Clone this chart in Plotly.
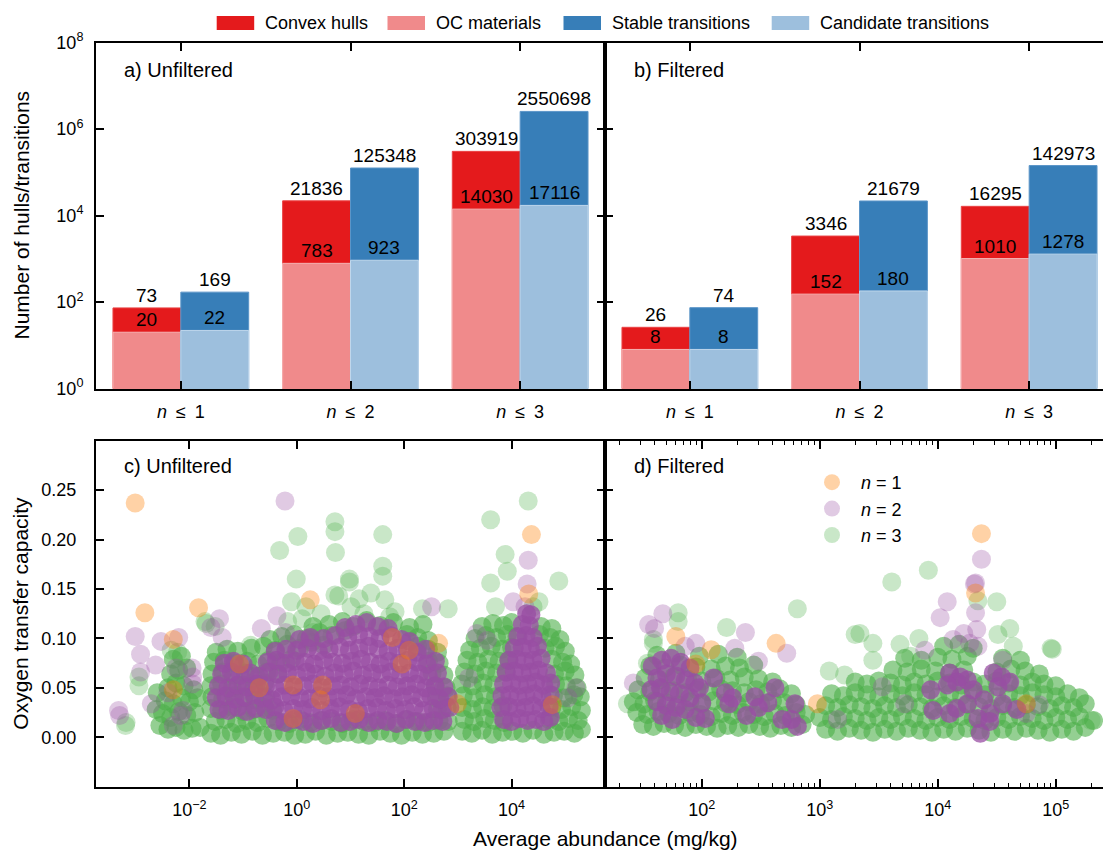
import math
import plotly.graph_objects as go

# ---------------- bar data (panels a, b) ----------------
cat_pos = [0, 1, 2]
cat_labels = ["<i>n</i>\u2002≤\u20021", "<i>n</i>\u2002≤\u20022", "<i>n</i>\u2002≤\u20023"]
unf_hulls = [73, 21836, 303919]
unf_oc = [20, 783, 14030]
unf_stable = [169, 125348, 2550698]
unf_cand = [22, 923, 17116]
fil_hulls = [26, 3346, 16295]
fil_oc = [8, 152, 1010]
fil_stable = [74, 21679, 142973]
fil_cand = [8, 180, 1278]
bar_legend = ["Convex hulls", "OC materials", "Stable transitions", "Candidate transitions"]

# ---------------- scatter data (panels c, d): (log10 abundance, oxygen transfer capacity) ----------------
c_n1 = [(-3.01, 0.237), (-2.83, 0.126), (-1.83, 0.131), (-2.30, 0.099), (-2.30, 0.048), (-1.07, 0.074),
        (-0.70, 0.050), (0.25, 0.139), (-0.07, 0.053), (-0.07, 0.019), (0.48, 0.053), (0.44, 0.038),
        (1.09, 0.024), (1.78, 0.101), (2.09, 0.088), (1.96, 0.074), (2.64, 0.095), (2.99, 0.034),
        (4.37, 0.205), (4.32, 0.145), (4.76, 0.033)]
c_n2 = [(-0.22, 0.239), (-3.01, 0.102), (-2.91, 0.084), (-2.91, 0.066), (-3.32, 0.027), (-3.30, 0.022),
        (-2.71, 0.034), (-2.53, 0.097), (-2.63, 0.073), (-2.20, 0.101), (-1.94, 0.061), (-1.94, 0.054),
        (-1.44, 0.120), (-1.60, 0.111), (-1.39, 0.101), (-0.66, 0.110), (-0.37, 0.123), (-0.21, 0.106),
        (0.24, 0.099), (-2.16, 0.022), (-2.12, 0.027), (-2.30, 0.012), (-2.25, 0.070), (-1.95, 0.070),
        (2.51, 0.132), (4.31, 0.179), (4.29, 0.155), (4.03, 0.137), (4.25, 0.132), (3.35, 0.105),
        (3.55, 0.098), (5.20, 0.050), (5.05, 0.040), (3.20, 0.060), (-2.40, 0.045)]
c_n2_core = [
    (-0.40, 0.017), (-0.22, 0.015), (-0.05, 0.018), (0.12, 0.016), (0.30, 0.014), (0.47, 0.017), (0.64, 0.019),
    (0.82, 0.015), (0.99, 0.016), (1.16, 0.018), (1.34, 0.015), (1.51, 0.017), (1.68, 0.016), (1.86, 0.014),
    (2.03, 0.018), (2.20, 0.016), (2.38, 0.015), (2.55, 0.017), (2.72, 0.016),
    (-1.45, 0.028), (-1.28, 0.027), (-1.10, 0.030), (-0.93, 0.026), (-0.76, 0.029), (-0.58, 0.028), (-0.41, 0.031),
    (-0.24, 0.027), (-0.06, 0.029), (0.11, 0.028), (0.28, 0.030), (0.46, 0.027), (0.63, 0.029), (0.80, 0.031),
    (0.98, 0.028), (1.15, 0.026), (1.32, 0.029), (1.50, 0.030), (1.67, 0.027), (1.84, 0.029), (2.02, 0.028),
    (2.19, 0.031), (2.36, 0.027), (2.54, 0.029), (2.71, 0.028), (2.85, 0.030),
    (-1.50, 0.040), (-1.32, 0.042), (-1.15, 0.039), (-0.98, 0.041), (-0.80, 0.043), (-0.63, 0.040), (-0.46, 0.038),
    (-0.28, 0.041), (-0.11, 0.042), (0.06, 0.040), (0.24, 0.039), (0.41, 0.042), (0.58, 0.041), (0.76, 0.040),
    (0.93, 0.043), (1.10, 0.039), (1.28, 0.041), (1.45, 0.040), (1.62, 0.042), (1.80, 0.039), (1.97, 0.041),
    (2.14, 0.043), (2.32, 0.040), (2.49, 0.042), (2.66, 0.039), (2.82, 0.041),
    (-1.46, 0.052), (-1.28, 0.050), (-1.10, 0.053), (-0.93, 0.051), (-0.75, 0.054), (-0.58, 0.052), (-0.40, 0.050),
    (-0.23, 0.053), (-0.05, 0.051), (0.12, 0.052), (0.30, 0.054), (0.47, 0.050), (0.65, 0.052), (0.82, 0.053),
    (1.00, 0.051), (1.17, 0.054), (1.35, 0.052), (1.52, 0.050), (1.70, 0.053), (1.87, 0.051), (2.05, 0.052),
    (2.22, 0.054), (2.40, 0.050), (2.57, 0.052), (2.74, 0.051),
    (-1.40, 0.064), (-1.22, 0.066), (-1.05, 0.063), (-0.87, 0.065), (-0.70, 0.062), (-0.52, 0.066), (-0.35, 0.064),
    (-0.17, 0.065), (0.00, 0.063), (0.18, 0.066), (0.35, 0.064), (0.53, 0.062), (0.70, 0.065), (0.88, 0.064),
    (1.05, 0.067), (1.23, 0.063), (1.40, 0.065), (1.58, 0.064), (1.75, 0.066), (1.93, 0.063), (2.10, 0.065),
    (2.28, 0.064), (2.45, 0.062), (2.62, 0.065),
    (-1.35, 0.075), (-1.18, 0.077), (-1.00, 0.074), (-0.55, 0.076), (-0.38, 0.078), (-0.20, 0.075), (-0.03, 0.077),
    (0.15, 0.076), (0.32, 0.074), (0.50, 0.078), (0.67, 0.076), (0.85, 0.075), (1.02, 0.077), (1.20, 0.079),
    (1.37, 0.076), (1.55, 0.074), (1.72, 0.077), (1.90, 0.075), (2.07, 0.078), (2.25, 0.076), (2.42, 0.074),
    (2.58, 0.077),
    (-0.40, 0.087), (-0.20, 0.089), (0.00, 0.088), (0.20, 0.090), (0.40, 0.087), (0.60, 0.089), (0.80, 0.091),
    (0.98, 0.088), (1.16, 0.090), (1.34, 0.092), (1.52, 0.089), (1.70, 0.087), (1.88, 0.090), (2.06, 0.088),
    (2.24, 0.086), (2.40, 0.089),
    (0.05, 0.099), (0.25, 0.101), (0.50, 0.100), (0.72, 0.103), (0.95, 0.101), (1.15, 0.104), (1.35, 0.102),
    (1.55, 0.100), (1.75, 0.103), (1.95, 0.099), (2.10, 0.097),
    (0.90, 0.111), (1.10, 0.114), (1.30, 0.116), (1.50, 0.112), (1.70, 0.110),
    (3.85, 0.018), (4.00, 0.016), (4.15, 0.019), (4.30, 0.017), (4.45, 0.018), (4.60, 0.016), (4.72, 0.020),
    (3.80, 0.030), (3.95, 0.031), (4.10, 0.029), (4.25, 0.030), (4.40, 0.032), (4.55, 0.029), (4.70, 0.031),
    (3.82, 0.042), (3.97, 0.043), (4.12, 0.041), (4.27, 0.042), (4.42, 0.044), (4.57, 0.041), (4.72, 0.043),
    (3.85, 0.054), (4.00, 0.055), (4.15, 0.053), (4.30, 0.054), (4.45, 0.056), (4.60, 0.053), (4.73, 0.055),
    (3.90, 0.066), (4.05, 0.067), (4.20, 0.065), (4.35, 0.066), (4.50, 0.068), (4.65, 0.065),
    (3.95, 0.078), (4.10, 0.079), (4.25, 0.077), (4.40, 0.078), (4.55, 0.080),
    (4.05, 0.090), (4.20, 0.091), (4.35, 0.089), (4.48, 0.092),
    (4.12, 0.102), (4.27, 0.103), (4.40, 0.101), (4.20, 0.114), (4.33, 0.113), (4.28, 0.125), (4.36, 0.124)]
c_n3 = [(0.71, 0.218), (0.71, 0.208), (0.02, 0.203), (-0.32, 0.189), (0.72, 0.187), (-0.01, 0.160),
        (0.98, 0.160), (0.98, 0.157), (-0.10, 0.137), (0.17, 0.132), (0.71, 0.144), (0.78, 0.143),
        (1.16, 0.140), (1.38, 0.146), (1.64, 0.139), (1.01, 0.132), (1.60, 0.205), (1.60, 0.173),
        (1.60, 0.163), (2.34, 0.130), (2.82, 0.130), (3.61, 0.220), (4.31, 0.239), (3.88, 0.185),
        (3.92, 0.168), (3.61, 0.156), (4.88, 0.158), (4.51, 0.137), (3.70, 0.132), (4.40, 0.132),
        (-1.71, 0.117), (-0.86, 0.093), (-3.18, 0.015), (-3.19, 0.012), (-2.94, 0.061), (-2.94, 0.052),
        (-2.34, 0.088), (-2.22, 0.086), (-1.69, 0.115), (-0.17, 0.117), (0.30, 0.106), (-1.52, 0.112),
        (0.45, 0.125), (1.25, 0.125), (1.83, 0.127), (1.73, 0.122), (0.10, 0.120)]
c_n3_core = [
    (-2.55, 0.012), (-2.40, 0.008), (-2.25, 0.010), (-2.10, 0.007), (-1.95, 0.009), (-1.80, 0.010),
    (-2.50, 0.024), (-2.35, 0.020), (-2.20, 0.026), (-2.05, 0.022), (-1.90, 0.025), (-2.45, 0.037),
    (-2.30, 0.034), (-2.15, 0.040), (-2.00, 0.036), (-1.85, 0.040), (-2.40, 0.050), (-2.25, 0.055),
    (-2.10, 0.052), (-1.92, 0.048), (-2.35, 0.064), (-2.20, 0.068), (-2.05, 0.070), (-2.30, 0.079),
    (-2.15, 0.082), (-2.60, 0.045), (-2.62, 0.028),
    (-1.60, 0.004), (-1.42, 0.002), (-1.22, 0.005), (-1.03, 0.003), (-0.83, 0.006), (-0.64, 0.002),
    (-0.44, 0.004), (-0.23, 0.005), (-0.04, 0.002), (0.16, 0.003), (0.35, 0.006), (0.55, 0.002),
    (0.76, 0.004), (0.95, 0.005), (1.15, 0.003), (1.34, 0.002), (1.55, 0.006), (1.74, 0.004),
    (1.95, 0.002), (2.15, 0.005), (2.34, 0.003), (2.55, 0.004), (2.74, 0.006),
    (-1.52, 0.016), (-1.32, 0.018), (-1.12, 0.014), (-0.93, 0.017), (-0.73, 0.015), (-0.54, 0.019),
    (-0.34, 0.016), (-0.14, 0.014), (0.06, 0.018), (0.25, 0.015), (0.45, 0.017), (0.66, 0.016),
    (0.85, 0.014), (1.05, 0.018), (1.25, 0.016), (1.45, 0.015), (1.65, 0.017), (1.85, 0.014),
    (2.05, 0.018), (2.25, 0.016), (2.45, 0.015), (2.65, 0.017), (2.82, 0.016),
    (-1.60, 0.029), (-1.40, 0.027), (-1.20, 0.030), (-1.00, 0.026), (-0.80, 0.028), (-0.60, 0.030),
    (-0.45, 0.027), (2.62, 0.028), (2.80, 0.030),
    (-1.58, 0.041), (-1.38, 0.039), (-1.18, 0.042), (-0.98, 0.040), (-0.78, 0.038), (-0.58, 0.041),
    (2.60, 0.040), (2.80, 0.042),
    (-1.60, 0.052), (-1.40, 0.054), (-1.20, 0.050), (-1.00, 0.053), (-0.80, 0.051), (-0.60, 0.055),
    (2.58, 0.052), (2.78, 0.050),
    (-1.58, 0.064), (-1.38, 0.066), (-1.18, 0.063), (-0.96, 0.065), (-0.76, 0.062), (-0.56, 0.066),
    (-0.35, 0.064), (2.52, 0.065), (2.74, 0.063),
    (-1.55, 0.076), (-1.35, 0.078), (-1.15, 0.075), (-0.92, 0.077), (-0.72, 0.074), (-0.52, 0.078),
    (-0.30, 0.076), (-0.10, 0.079), (2.45, 0.077), (2.65, 0.075),
    (-1.50, 0.086), (-1.30, 0.089), (-1.10, 0.087), (-0.85, 0.090), (-0.62, 0.092), (-0.40, 0.088),
    (-0.18, 0.094), (0.05, 0.090), (0.28, 0.096), (0.50, 0.093), (2.25, 0.092), (2.45, 0.089), (2.62, 0.086),
    (-0.50, 0.099), (-0.28, 0.102), (-0.05, 0.104), (0.18, 0.100), (0.42, 0.106), (0.65, 0.103),
    (0.90, 0.108), (2.05, 0.104), (2.25, 0.101), (2.45, 0.098),
    (0.30, 0.112), (0.60, 0.114), (0.85, 0.117), (1.05, 0.112), (1.30, 0.118), (1.55, 0.113),
    (1.80, 0.116), (2.10, 0.111), (2.35, 0.114),
    (3.08, 0.006), (3.26, 0.004), (3.45, 0.007), (3.64, 0.003), (3.83, 0.005), (4.02, 0.006), (4.21, 0.004),
    (4.40, 0.007), (4.60, 0.003), (4.79, 0.005), (4.98, 0.006), (5.17, 0.004), (5.30, 0.008),
    (3.12, 0.018), (3.30, 0.016), (3.50, 0.019), (3.68, 0.017), (3.86, 0.015), (4.70, 0.018), (4.88, 0.016),
    (5.06, 0.019), (5.24, 0.017),
    (3.08, 0.030), (3.27, 0.028), (3.46, 0.031), (3.65, 0.029), (3.84, 0.032), (4.75, 0.030), (4.93, 0.028),
    (5.12, 0.031), (5.30, 0.027),
    (3.10, 0.042), (3.30, 0.040), (3.50, 0.043), (3.70, 0.041), (4.78, 0.042), (4.97, 0.040), (5.16, 0.043),
    (5.28, 0.041),
    (3.07, 0.054), (3.27, 0.052), (3.47, 0.055), (3.67, 0.053), (4.82, 0.054), (5.02, 0.052), (5.22, 0.050),
    (3.12, 0.066), (3.32, 0.064), (3.52, 0.067), (3.72, 0.065), (3.90, 0.066), (4.80, 0.064), (5.00, 0.067),
    (5.18, 0.063),
    (3.17, 0.078), (3.37, 0.076), (3.57, 0.079), (3.77, 0.077), (3.95, 0.078), (4.75, 0.079), (4.95, 0.076),
    (5.10, 0.074),
    (3.22, 0.088), (3.42, 0.090), (3.62, 0.092), (3.82, 0.089), (4.00, 0.091), (4.62, 0.090), (4.82, 0.092),
    (5.00, 0.087),
    (3.32, 0.100), (3.52, 0.103), (3.72, 0.101), (3.92, 0.104), (4.10, 0.102), (4.52, 0.104), (4.72, 0.101),
    (4.90, 0.099),
    (3.45, 0.112), (3.65, 0.115), (3.85, 0.113), (4.00, 0.116), (4.55, 0.112), (4.75, 0.110)]

d_n1 = [(1.78, 0.102), (2.08, 0.0885), (2.63, 0.095), (1.95, 0.074), (2.98, 0.034), (4.37, 0.206),
        (4.32, 0.146), (4.75, 0.034)]
d_n2 = [(4.37, 0.180), (4.32, 0.156), (4.31, 0.155), (4.08, 0.137), (4.02, 0.121), (4.32, 0.126),
        (4.33, 0.109), (4.34, 0.092), (4.22, 0.105), (4.13, 0.099), (4.27, 0.095), (3.89, 0.088),
        (4.55, 0.078), (3.53, 0.051), (3.72, 0.034), (1.55, 0.114), (1.67, 0.125), (1.60, 0.110),
        (1.42, 0.055), (2.37, 0.106), (1.95, 0.095), (1.86, 0.092), (2.72, 0.085), (2.48, 0.077),
        (2.28, 0.090), (4.75, 0.024), (4.86, 0.033), (3.15, 0.018)]
d_n2_core = [
    (1.58, 0.072), (1.66, 0.078), (1.74, 0.080), (1.82, 0.076), (1.90, 0.070), (1.62, 0.060), (1.70, 0.064),
    (1.78, 0.062), (1.86, 0.058), (1.94, 0.055), (1.57, 0.048), (1.65, 0.050), (1.73, 0.046), (1.81, 0.044),
    (1.90, 0.040), (1.98, 0.050), (1.62, 0.036), (1.70, 0.032), (1.78, 0.030), (1.86, 0.028), (2.00, 0.035),
    (1.66, 0.022), (1.75, 0.018), (1.95, 0.020), (2.03, 0.019),
    (2.23, 0.034), (2.26, 0.040), (2.45, 0.041), (2.48, 0.030), (2.79, 0.034), (2.81, 0.011), (2.76, 0.018),
    (2.68, 0.018), (2.38, 0.022), (2.56, 0.035), (2.20, 0.045), (2.62, 0.050), (2.10, 0.060),
    (4.10, 0.065), (4.19, 0.061), (4.16, 0.056), (4.25, 0.058), (4.08, 0.053), (4.47, 0.065), (4.54, 0.061),
    (4.61, 0.056), (4.51, 0.051), (4.39, 0.038), (4.44, 0.024), (4.44, 0.016), (4.34, 0.019), (4.16, 0.029),
    (4.10, 0.024), (3.96, 0.027), (4.36, 0.004), (4.25, 0.034), (4.55, 0.034), (4.67, 0.028), (3.94, 0.048),
    (4.30, 0.048)]
d_n3 = [(3.92, 0.169), (3.61, 0.157), (2.81, 0.130), (4.50, 0.137), (4.97, 0.089), (1.80, 0.126),
        (1.80, 0.117), (1.59, 0.099), (1.59, 0.095), (2.21, 0.111), (1.54, 0.075), (1.37, 0.034),
        (3.08, 0.067), (3.21, 0.063), (3.30, 0.104), (3.34, 0.105), (3.45, 0.095), (3.45, 0.078),
        (4.61, 0.110), (4.51, 0.104), (4.64, 0.092), (4.96, 0.090), (4.34, 0.138), (3.68, 0.094),
        (3.84, 0.100), (3.77, 0.082), (5.30, 0.017)]
d_n3_core = [
    (1.50, 0.013), (1.59, 0.011), (1.68, 0.014), (1.77, 0.012), (1.86, 0.010), (1.95, 0.013), (2.04, 0.011),
    (2.13, 0.009), (2.22, 0.012), (2.31, 0.010), (2.40, 0.013), (2.49, 0.011), (2.58, 0.009), (2.67, 0.012),
    (2.76, 0.010), (2.85, 0.013),
    (1.45, 0.025), (1.54, 0.023), (1.63, 0.026), (1.72, 0.024), (1.81, 0.022), (1.90, 0.025), (1.99, 0.023),
    (2.08, 0.021), (2.17, 0.024), (2.26, 0.022), (2.35, 0.025), (2.44, 0.023), (2.53, 0.021), (2.62, 0.024),
    (2.71, 0.022), (2.80, 0.025), (2.88, 0.023),
    (1.42, 0.036), (1.51, 0.034), (1.60, 0.037), (1.70, 0.035), (1.80, 0.033), (1.90, 0.036), (2.00, 0.034),
    (2.10, 0.037), (2.20, 0.035), (2.30, 0.033), (2.40, 0.036), (2.50, 0.034), (2.60, 0.037), (2.70, 0.035),
    (2.80, 0.033),
    (1.46, 0.048), (1.56, 0.046), (1.66, 0.049), (1.76, 0.047), (1.86, 0.045), (1.96, 0.048), (2.06, 0.046),
    (2.16, 0.049), (2.26, 0.047), (2.36, 0.045), (2.46, 0.048), (2.56, 0.046), (2.66, 0.049), (2.76, 0.044),
    (1.52, 0.060), (1.64, 0.058), (1.76, 0.061), (1.88, 0.059), (2.00, 0.057), (2.12, 0.060), (2.24, 0.058),
    (2.36, 0.061), (2.48, 0.059), (2.60, 0.056),
    (1.56, 0.072), (1.69, 0.070), (1.82, 0.073), (1.95, 0.071), (2.08, 0.069), (2.20, 0.072), (2.32, 0.070),
    (2.44, 0.073),
    (1.62, 0.083), (1.78, 0.085), (1.98, 0.082), (2.14, 0.084), (2.30, 0.081),
    (3.05, 0.008), (3.15, 0.006), (3.25, 0.009), (3.35, 0.007), (3.45, 0.005), (3.55, 0.008), (3.65, 0.006),
    (3.75, 0.009), (3.85, 0.007), (3.95, 0.005), (4.05, 0.008), (4.15, 0.006), (4.25, 0.009), (4.35, 0.007),
    (4.45, 0.005), (4.55, 0.008), (4.65, 0.006), (4.75, 0.009), (4.85, 0.007), (4.95, 0.005), (5.05, 0.008),
    (5.15, 0.006), (5.25, 0.010),
    (3.00, 0.020), (3.10, 0.018), (3.20, 0.021), (3.30, 0.019), (3.40, 0.017), (3.50, 0.020), (3.60, 0.018),
    (3.70, 0.021), (3.80, 0.019), (3.90, 0.017), (4.00, 0.020), (4.10, 0.018), (4.20, 0.021), (4.30, 0.019),
    (4.40, 0.017), (4.50, 0.020), (4.60, 0.018), (4.70, 0.021), (4.80, 0.019), (4.90, 0.017), (5.00, 0.020),
    (5.10, 0.018), (5.20, 0.021), (5.32, 0.017),
    (3.05, 0.032), (3.15, 0.030), (3.25, 0.033), (3.35, 0.031), (3.45, 0.029), (3.55, 0.032), (3.65, 0.030),
    (3.75, 0.033), (3.85, 0.031), (3.95, 0.029), (4.05, 0.032), (4.15, 0.030), (4.25, 0.033), (4.35, 0.031),
    (4.45, 0.029), (4.55, 0.032), (4.65, 0.030), (4.75, 0.033), (4.85, 0.031), (4.95, 0.029), (5.05, 0.032),
    (5.15, 0.030), (5.25, 0.034),
    (3.10, 0.044), (3.20, 0.042), (3.30, 0.045), (3.40, 0.043), (3.50, 0.041), (3.60, 0.044), (3.70, 0.042),
    (3.80, 0.045), (3.90, 0.043), (4.00, 0.041), (4.10, 0.044), (4.20, 0.042), (4.30, 0.045), (4.40, 0.043),
    (4.50, 0.041), (4.60, 0.044), (4.70, 0.042), (4.80, 0.045), (4.90, 0.043), (5.00, 0.041), (5.10, 0.044),
    (5.20, 0.040),
    (3.30, 0.056), (3.40, 0.054), (3.50, 0.057), (3.60, 0.055), (3.70, 0.053), (3.80, 0.056), (3.90, 0.054),
    (4.00, 0.057), (4.10, 0.055), (4.20, 0.053), (4.30, 0.056), (4.40, 0.054), (4.50, 0.057), (4.60, 0.055),
    (4.70, 0.053), (4.80, 0.056), (4.90, 0.054), (5.00, 0.052),
    (3.62, 0.068), (3.74, 0.066), (3.86, 0.069), (3.98, 0.067), (4.10, 0.065), (4.22, 0.068), (4.50, 0.066),
    (4.62, 0.069), (4.74, 0.067), (4.86, 0.064),
    (3.72, 0.080), (3.86, 0.078), (4.00, 0.081), (4.12, 0.079), (4.25, 0.082), (4.55, 0.080), (4.70, 0.078),
    (4.05, 0.092), (4.18, 0.094), (4.30, 0.090)]

# ---------------- styling ----------------
W, H = 1103, 851
FONT = "Liberation Sans, Arial, Helvetica, sans-serif"
RED, LRED, BLUE, LBLUE = "#e41a1c", "#f08a8b", "#377eb8", "#9dbfdd"
C1 = "rgba(255,127,0,{a})"
C2 = "rgba(152,78,163,{a})"
C3 = "rgba(77,175,74,{a})"
MS = 19


def ppx(x):
    return x / W


def ppy(y):
    return 1 - y / H


XA = [96 / W, 605 / W]
XB = [605 / W, 1.0]
YT = [ppy(388.5), ppy(42.5)]
YB = [ppy(786.7), ppy(440.7)]

fig = go.Figure()


def add_bars(xa, ya, hulls, oc, stable, cand):
    specs = [(hulls, RED, "#ea4445", -0.4), (oc, LRED, "#f5b3b3", -0.4),
             (stable, BLUE, "#5b95c8", 0.0), (cand, LBLUE, "#c0d7ec", 0.0)]
    for vals, col, lc, off in specs:
        fig.add_trace(go.Bar(x=cat_pos, y=vals, offset=off, width=0.4,
                             marker=dict(color=col, line=dict(color=lc, width=1)),
                             xaxis=xa, yaxis=ya, showlegend=False, hoverinfo="skip"))


add_bars("x", "y", unf_hulls, unf_oc, unf_stable, unf_cand)
add_bars("x2", "y2", fil_hulls, fil_oc, fil_stable, fil_cand)


def add_scatter(pts, color, xa, ya, name=None, legend=False):
    fig.add_trace(go.Scatter(x=[10 ** p[0] for p in pts], y=[p[1] for p in pts], mode="markers",
                             marker=dict(size=MS, color=color, line=dict(width=0)),
                             xaxis=xa, yaxis=ya, name=name, showlegend=legend,
                             legend="legend2", hoverinfo="skip"))


for xa, ya, n3c, n3, n2c, n2, n1, leg in [("x3", "y3", c_n3_core, c_n3, c_n2_core, c_n2, c_n1, False),
                                          ("x4", "y4", d_n3_core, d_n3, d_n2_core, d_n2, d_n1, True)]:
    add_scatter(n3c, C3.format(a=0.6), xa, ya)
    add_scatter(n3, C3.format(a=0.3), xa, ya, "\u2002<i>n</i> = 3", leg)
    add_scatter(n2c, C2.format(a=0.75), xa, ya)
    add_scatter(n2, C2.format(a=0.3), xa, ya, "\u2002<i>n</i> = 2", leg)
    add_scatter(n1, C1.format(a=0.35), xa, ya, "\u2002<i>n</i> = 1", leg)

# ---------------- axes ----------------
base = dict(showline=True, linecolor="black", linewidth=2, ticks="inside", ticklen=8, tickwidth=1.5,
            tickcolor="black", showgrid=False, zeroline=False, automargin=False,
            tickfont=dict(size=18, color="black"))
sup = lambda e: "10<sup>%s</sup>" % e

fig.update_layout(
    xaxis=dict(base, domain=XA, anchor="y", range=[-0.5, 2.5], tickvals=cat_pos, ticktext=cat_labels,
               mirror="ticks", ticklabelstandoff=6),
    yaxis=dict(base, domain=YT, anchor="x", type="log", range=[0, 8],
               tickvals=[1, 1e2, 1e4, 1e6, 1e8], ticktext=[sup(0), sup(2), sup(4), sup(6), sup(8)],
               mirror="ticks", ticklabelstandoff=7),
    xaxis2=dict(base, domain=XB, anchor="y2", range=[-0.5, 2.5 - 3 * 11 / 509], tickvals=cat_pos,
                ticktext=cat_labels, mirror="ticks", ticklabelstandoff=6),
    yaxis2=dict(base, domain=YT, anchor="x2", type="log", range=[0, 8],
                tickvals=[1, 1e2, 1e4, 1e6, 1e8], showticklabels=False),
    xaxis3=dict(base, domain=XA, anchor="y3", type="log", range=[-3.74, 5.74],
                tickvals=[1e-2, 1, 1e2, 1e4], ticktext=[sup("−2"), sup(0), sup(2), sup(4)],
                mirror="ticks", ticklabelstandoff=6),
    yaxis3=dict(base, domain=YB, anchor="x3", range=[-0.05, 0.30],
                tickvals=[0, 0.05, 0.10, 0.15, 0.20, 0.25], tickformat=".2f", mirror="ticks",
                ticklabelstandoff=14),
    xaxis4=dict(base, domain=XB, anchor="y4", type="log", range=[1.18, 5.40],
                tickvals=[1e2, 1e3, 1e4, 1e5], ticktext=[sup(2), sup(3), sup(4), sup(5)],
                mirror="ticks", ticklabelstandoff=6,
                minor=dict(ticks="inside", ticklen=4, tickwidth=1, tickcolor="black",
                           tickvals=[m * 10 ** k for k in range(1, 6) for m in range(2, 10)])),
    yaxis4=dict(base, domain=YB, anchor="x4", range=[-0.05, 0.30],
                tickvals=[0, 0.05, 0.10, 0.15, 0.20, 0.25], showticklabels=False),
)

# ---------------- annotations ----------------
ann = []
for xa, ya, hulls, oc, stable, cand in [("x", "y", unf_hulls, unf_oc, unf_stable, unf_cand),
                                        ("x2", "y2", fil_hulls, fil_oc, fil_stable, fil_cand)]:
    for i in cat_pos:
        for xo, val in [(-0.2, hulls[i]), (-0.2, oc[i]), (0.2, stable[i]), (0.2, cand[i])]:
            ann.append(dict(x=i + xo, y=math.log10(val), xref=xa, yref=ya, text=str(val), showarrow=False,
                            xanchor="center", yanchor="bottom", yshift=0, font=dict(size=19, color="black")))

for txt, x, y in [("a) Unfiltered", 122, 70), ("b) Filtered", 632, 70),
                  ("c) Unfiltered", 122, 466), ("d) Filtered", 632, 466)]:
    ann.append(dict(x=ppx(x), y=ppy(y), xref="paper", yref="paper", text=txt, showarrow=False,
                    xanchor="left", yanchor="middle", font=dict(size=20, color="black")))

for txt, x, y, ang in [("Number of hulls/transitions", 21, 215.5, -90),
                       ("Oxygen transfer capacity", 21, 613.7, -90),
                       ("Average abundance (mg/kg)", 605, 838, 0)]:
    ann.append(dict(x=ppx(x), y=ppy(y), xref="paper", yref="paper", text=txt, textangle=ang,
                    showarrow=False, xanchor="center", yanchor="middle", font=dict(size=21, color="black")))

# manual bar legend (wide patches)
shapes = []
patch_x = [216.7, 387.5, 563.5, 771.7]
for name, col, x0 in zip(bar_legend, [RED, LRED, BLUE, LBLUE], patch_x):
    shapes.append(dict(type="rect", xref="paper", yref="paper", x0=ppx(x0), x1=ppx(x0 + 37.5),
                       y0=ppy(30), y1=ppy(16), fillcolor=col, line=dict(width=0)))
    ann.append(dict(x=ppx(x0 + 46), y=ppy(23), xref="paper", yref="paper", text=name, showarrow=False,
                    xanchor="left", yanchor="middle", font=dict(size=18, color="black")))

fig.update_layout(
    width=W, height=H, margin=dict(l=0, r=0, t=0, b=0, autoexpand=False),
    paper_bgcolor="white", plot_bgcolor="white",
    font=dict(family=FONT, color="black"),
    barmode="overlay", annotations=ann, shapes=shapes,
    showlegend=True,
    legend2=dict(x=ppx(812), y=ppy(464), xanchor="left", yanchor="top", bgcolor="rgba(0,0,0,0)",
                 traceorder="reversed", font=dict(size=18, color="black"), itemsizing="trace"),
)

fig.write_html("out.html", config={"displayModeBar": False},
               post_script="document.body.style.margin='0';")
